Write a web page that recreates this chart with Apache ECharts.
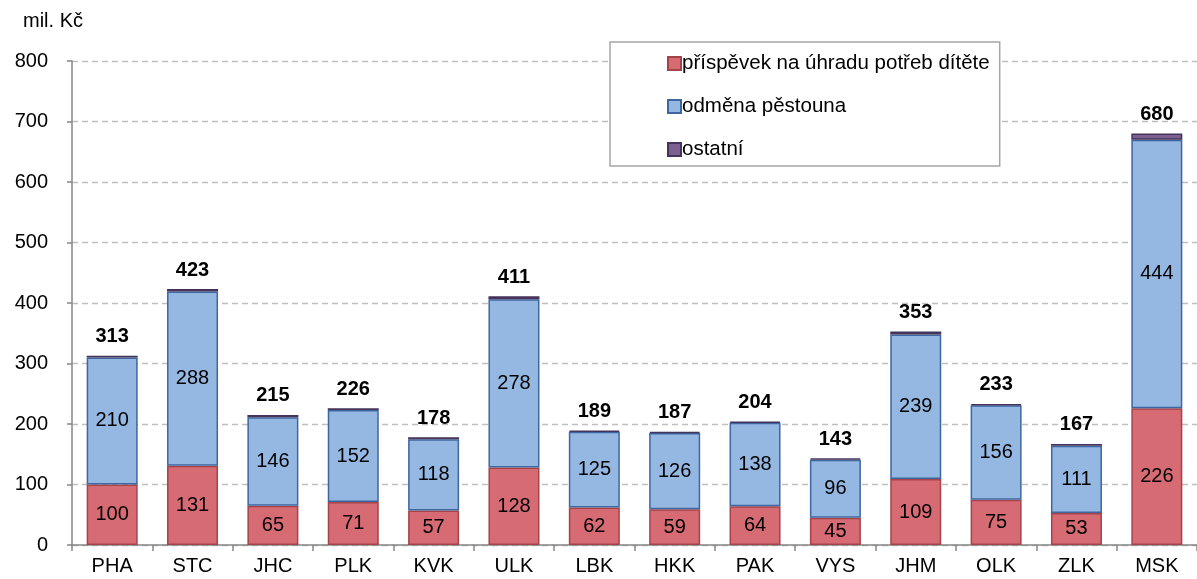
<!DOCTYPE html>
<html><head><meta charset="utf-8">
<script src="https://cdn.jsdelivr.net/npm/echarts@6/dist/echarts.min.js"></script>
<style>html,body{margin:0;padding:0;background:#fff}#c{width:1197px;height:579px}</style>
</head><body><div id="c"></div>
<script>
var categories = ['PHA','STC','JHC','PLK','KVK','ULK','LBK','HKK','PAK','VYS','JHM','OLK','ZLK','MSK'];
var prispevek = [100,131,65,71,57,128,62,59,64,45,109,75,53,226];
var odmena = [210,288,146,152,118,278,125,126,138,96,239,156,111,444];
var ostatni = [3,4,4,3,3,5,2,2,2,2,5,2,3,10];
var totals = [313,423,215,226,178,411,189,187,204,143,353,233,167,680];
var yTicks = [0,100,200,300,400,500,600,700,800];
var seriesNames = ['příspěvek na úhradu potřeb dítěte','odměna pěstouna','ostatní'];

var font = 'Liberation Sans, Arial, sans-serif';
var fs = 20;
var chart = echarts.init(document.getElementById('c'));
chart.setOption({
  animation: false,
  textStyle: {fontFamily: font},
  grid: {left: 72, right: -9, top: 61, bottom: 34, containLabel: false},
  title: {text: 'mil. Kč', left: 23, top: 11, padding: 0, textStyle: {fontSize: fs, fontWeight: 'normal', color: '#000', fontFamily: font}},
  legend: {
    orient: 'vertical', left: 610, top: 42,
    padding: [11, 10, 6, 57],
    borderColor: '#A6A6A6', borderWidth: 1.5, backgroundColor: '#fff',
    itemWidth: 13, itemHeight: 13, itemGap: 22,
    icon: 'rect',
    textStyle: {fontSize: 20.5, color: '#000', fontFamily: font, padding: [0,0,0,-4]},
    data: seriesNames
  },
  xAxis: {
    type: 'category', data: categories,
    axisLine: {lineStyle: {color: '#868686', width: 1.5}},
    axisTick: {show: true, length: 6, lineStyle: {color: '#868686', width: 1.5}},
    axisLabel: {fontSize: fs, color: '#000', margin: 11, fontFamily: font}
  },
  yAxis: {
    type: 'value', min: 0, max: 800, interval: 100,
    axisLine: {show: true, lineStyle: {color: '#868686', width: 1.5}},
    axisTick: {show: true, length: 5, lineStyle: {color: '#868686', width: 1.5}},
    axisLabel: {fontSize: fs, color: '#000', margin: 24, fontFamily: font,
      formatter: function(v){ return yTicks.indexOf(v) >= 0 ? String(v) : ''; }},
    splitLine: {lineStyle: {color: '#BFBFBF', type: [6,4], width: 1.3}}
  },
  series: [
    {name: seriesNames[0], type: 'bar', stack: 's', barWidth: 51, data: prispevek,
     itemStyle: {color: '#D76B74', borderColor: '#A4434A', borderWidth: 1.5},
     label: {show: true, position: 'inside', fontSize: fs, color: '#000', fontFamily: font}},
    {name: seriesNames[1], type: 'bar', stack: 's', barWidth: 51, data: odmena,
     itemStyle: {color: '#95B8E3', borderColor: '#3E66A0', borderWidth: 1.5},
     label: {show: true, position: 'inside', fontSize: fs, color: '#000', fontFamily: font}},
    {name: seriesNames[2], type: 'bar', stack: 's', barWidth: 51, data: ostatni,
     itemStyle: {color: '#7D5F91', borderColor: '#45345A', borderWidth: 1.5},
     label: {show: true, position: 'top', distance: 9, fontSize: fs, fontWeight: 'bold', color: '#000', fontFamily: font,
       formatter: function(p){ return String(totals[p.dataIndex]); }}}
  ]
});
</script></body></html>
